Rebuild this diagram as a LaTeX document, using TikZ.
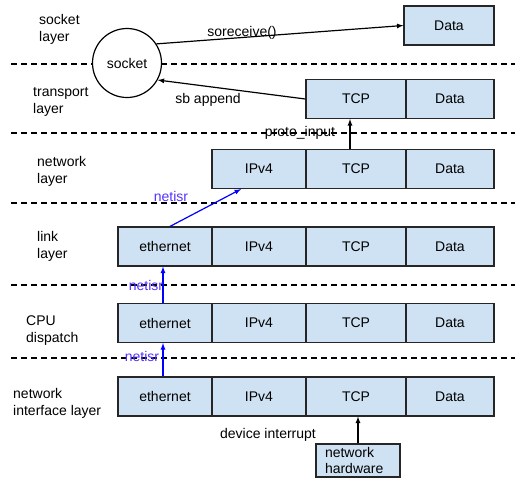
\documentclass[tikz,border=0pt]{standalone}
\usepackage{fontspec}
\setmainfont{Liberation Sans}
\definecolor{cellblue}{HTML}{CFE2F3}
\definecolor{isrtext}{HTML}{5533FF}

\begin{document}
\begin{tikzpicture}[x=1pt, y=-1pt, >=latex,
	font=\fontsize{14}{17}\selectfont,
	cell/.style={draw=black!85, fill=cellblue, line width=1.2pt,
		minimum height=39pt, inner sep=0pt},
	layer/.style={anchor=west, align=left, inner sep=0pt},
	sep/.style={dash pattern=on 6pt off 4pt, line width=1.2pt},
	isr/.style={->, blue, line width=1.2pt},
	isrlbl/.style={text=isrtext, inner sep=0pt}]
	
	\useasboundingbox[fill=white] (0,0) rectangle (523,483);
	
	\foreach \y in {64,133,203,285,358}
		\draw[sep] (11,\y) -- (515,\y);
	
	%layer names
	\node[layer] (lsock) at (39,29) {socket\\layer};
	\node[layer] (ltrans) at (33,102) {transport\\layer};
	\node[layer] (lnet) at (37,171) {network\\layer};
	\node[layer] (llink) at (37,246) {link\\layer};
	\node[layer] (lcpu) at (26,331) {CPU\\dispatch};
	\node[layer] (lnic) at (13,403) {network\\interface layer};
	
	%headers
	\node[draw, fill=white, circle, line width=1.2pt, minimum size=69pt,
		inner sep=0pt] (sock) at (127,63) {socket};
	\node[cell, minimum width=90pt] (topdata) at (449,25.5) {Data};
	
	\node[cell, minimum width=100pt] (transtcp) at (356,99) {TCP};
	\node[cell, minimum width=88pt] (transdata) at (450,99) {Data};
	
	\node[cell, minimum width=94pt] (netip) at (259,169) {IPv4};
	\node[cell, minimum width=100pt] (nettcp) at (356,169) {TCP};
	\node[cell, minimum width=88pt] (netdata) at (450,169) {Data};
	
	\foreach \r/\y in {link/246.5, cpu/323, nic/396.5} {
		\node[cell, minimum width=94pt] (\r eth) at (165,\y) {ethernet};
		\node[cell, minimum width=94pt] (\r ip) at (259,\y) {IPv4};
		\node[cell, minimum width=100pt] (\r tcp) at (356,\y) {TCP};
		\node[cell, minimum width=88pt] (\r data) at (450,\y) {Data};
	}
	
	\node[draw=black!85, fill=cellblue, line width=1.2pt, minimum width=84pt,
		minimum height=33pt, inner sep=0pt, text width=66pt, align=left,
		font=\fontsize{14}{16}\selectfont] (hw) at (358,460.5) {network\\hardware};
	
	%arrows
	\draw[->, line width=1.2pt] (sock.33) -- (topdata.west);
	\node[inner sep=0pt] (lrecv) at (242,33) {soreceive()};
	\draw[->, line width=1.2pt] (transtcp.west) -- (sock.-29);
	\node[inner sep=0pt] (lsb) at (208,100) {sb append};
	\draw[->, line width=1.2pt] ([xshift=-6pt]nettcp.north)
		-- ([xshift=-6pt]transtcp.south);
	\node[inner sep=0pt] (lproto) at (300,133) {proto\_input};
	
	\draw[isr] ([xshift=5pt]linketh.north) -- ([xshift=-18pt]netip.south);
	\node[isrlbl] (lisra) at (171,196) {netisr};
	\draw[isr] ([xshift=-2pt]cpueth.north) -- ([xshift=-2pt]linketh.south);
	\node[isrlbl] (lisrb) at (146,285) {netisr};
	\draw[isr] ([xshift=-2pt]niceth.north) -- ([xshift=-2pt]cpueth.south);
	\node[isrlbl] (lisrc) at (142,356) {netisr};
	
	\draw[->, line width=1.2pt] (hw.north) -- (hw.north |- nictcp.south);
	\node[inner sep=0pt] (lirq) at (268,435) {device interrupt};
\end{tikzpicture}
\end{document}
